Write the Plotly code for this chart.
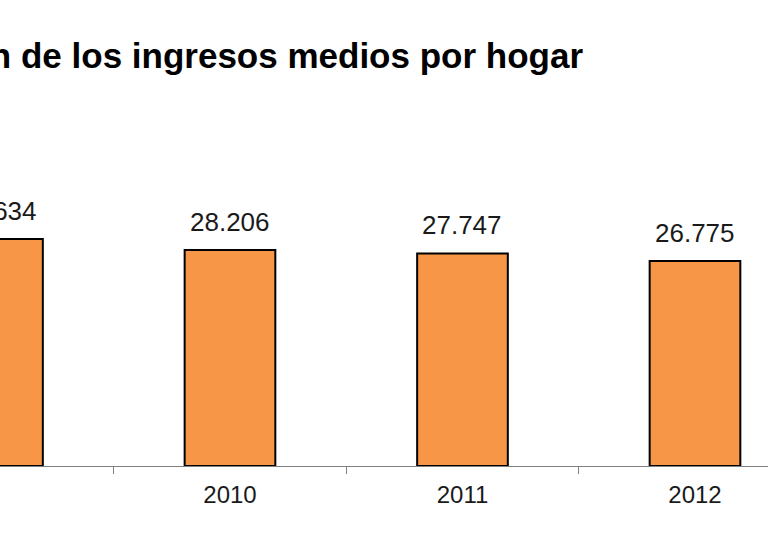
import plotly.graph_objects as go

# Data
years = ["2009", "2010", "2011", "2012"]
ingresos = [29634, 28206, 27747, 26775]
title_text = "Evolución de los ingresos medios por hogar"

X0, X1 = 0.0108, 3.314          # visible category window
PX_PER_CAT = 768 / (X1 - X0)

def fmt(v):
    return f"{v:,}".replace(",", ".")

fig = go.Figure()
fig.add_trace(go.Bar(
    x=years,
    y=ingresos,
    width=0.39,
    marker=dict(color="#F79646", line=dict(color="#000000", width=2)),
    hoverinfo="skip",
    cliponaxis=False,
))

annotations = []
for i, v in enumerate(ingresos):
    ax = max(i, X0 + 0.001)
    annotations.append(dict(
        x=ax, y=v, xref="x", yref="y", text=fmt(v), showarrow=False,
        xshift=(i - ax) * PX_PER_CAT,
        yanchor="bottom", xanchor="center", yshift=11,
        font=dict(family="Arial, Liberation Sans, sans-serif", size=26, color="#1a1a1a")))
annotations.append(dict(
    x=585 / 768, y=1, xref="paper", yref="paper", yshift=23,
    text="<b>" + title_text + "</b>", showarrow=False, xanchor="right", yanchor="bottom",
    font=dict(family="Arial, Liberation Sans, sans-serif", size=35, color="#000000"),
))

fig.update_layout(
    width=768, height=550,
    margin=dict(l=0, r=0, t=100, b=84),
    paper_bgcolor="white", plot_bgcolor="white",
    showlegend=False,
    annotations=annotations,
    xaxis=dict(
        type="category",
        range=[X0, X1],
        showline=True, linecolor="#808080", linewidth=1,
        ticks="outside", tickson="boundaries", ticklen=7, tickcolor="#808080", tickwidth=1,
        ticklabelstandoff=7,
        showgrid=False, zeroline=False,
        tickfont=dict(family="Arial, Liberation Sans, sans-serif", size=24, color="#1a1a1a"),
    ),
    yaxis=dict(range=[0, 47780], visible=False, showgrid=False, zeroline=False),
)

fig.write_html("out.html", config={"displayModeBar": False},
               post_script="document.body.style.margin='0';document.body.style.overflow='hidden';")
